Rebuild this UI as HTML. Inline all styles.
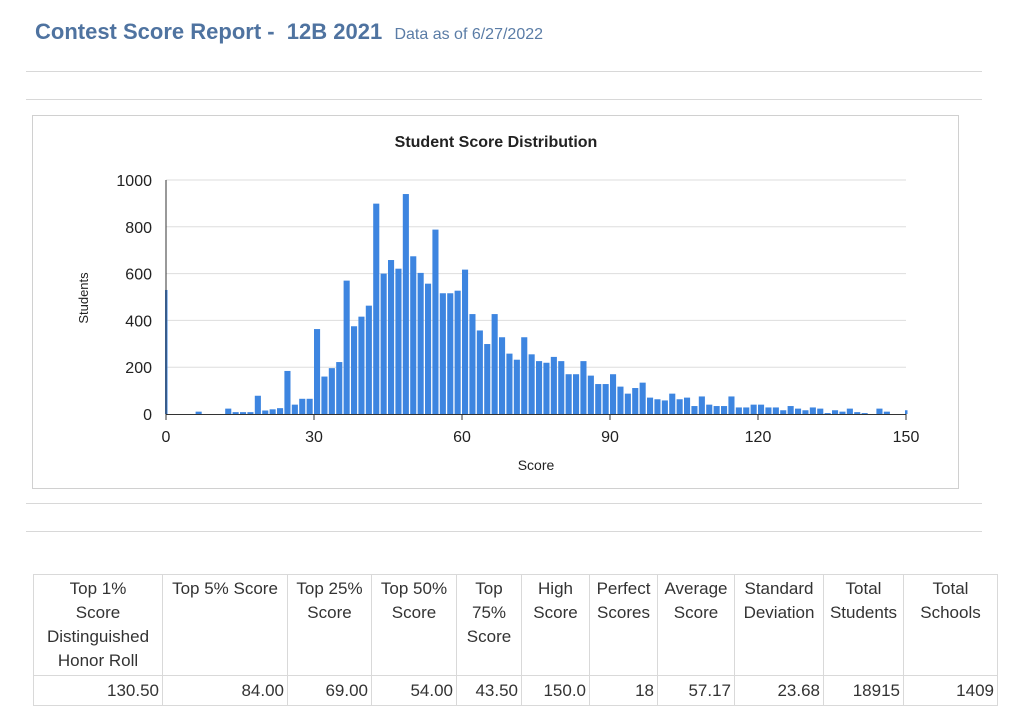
<!DOCTYPE html>
<html><head><meta charset="utf-8"><style>
body{margin:0;width:1030px;height:720px;background:#fff;font-family:"Liberation Sans",sans-serif;position:relative;overflow:hidden}
.t{position:absolute;left:35px;top:19px;color:#4f73a0;font-weight:bold;font-size:22px;white-space:pre}
.t span{font-weight:normal;font-size:16px;color:#5a7ca6}
.hl{position:absolute;left:26px;width:956px;height:1px;background:#d8d8d8}
.box{position:absolute;left:32px;top:115px;width:925px;height:372px;border:1px solid #d0d0d0}
table{position:absolute;left:33px;top:574px;border-collapse:collapse;font-size:17px;color:#333}
td{border:1px solid #d9d9d9;padding:2px 3px;line-height:24px;vertical-align:top;text-align:center}
tr.d td{text-align:right;vertical-align:middle;height:25px}
</style></head><body>
<div class="t">Contest Score Report -  12B 2021  <span>Data as of 6/27/2022</span></div>
<div class="hl" style="top:71px"></div><div class="hl" style="top:99px"></div>
<div class="hl" style="top:503px"></div><div class="hl" style="top:531px"></div>
<div class="box"></div>
<svg id="c" width="1030" height="720" style="position:absolute;left:0;top:0" font-family="Liberation Sans, sans-serif">
<text x="496" y="147" text-anchor="middle" font-size="16" font-weight="bold" fill="#222">Student Score Distribution</text>
<text x="88" y="298" transform="rotate(-90 88 298)" text-anchor="middle" font-size="13" fill="#222">Students</text>
<text x="536" y="470" text-anchor="middle" font-size="14" fill="#222">Score</text>
</svg>
<table>
<tr><td style="width:122px">Top 1%<br>Score<br>Distinguished<br>Honor Roll</td><td style="width:118px">Top 5% Score</td><td style="width:77px">Top 25%<br>Score</td><td style="width:78px">Top 50%<br>Score</td><td style="width:58px">Top<br>75%<br>Score</td><td style="width:61px">High<br>Score</td><td style="width:61px">Perfect<br>Scores</td><td style="width:70px">Average<br>Score</td><td style="width:82px">Standard<br>Deviation</td><td style="width:73px">Total<br>Students</td><td style="width:87px">Total<br>Schools</td></tr>
<tr class="d"><td>130.50</td><td>84.00</td><td>69.00</td><td>54.00</td><td>43.50</td><td>150.0</td><td>18</td><td>57.17</td><td>23.68</td><td>18915</td><td>1409</td></tr>
</table>
<script>
var d=[530,0,0,0,10,0,0,0,23,8,8,8,78,15,20,25,184,40,65,65,363,160,196,222,570,375,416,463,899,600,658,621,940,674,603,557,788,516,516,527,617,427,357,299,427,328,258,232,328,255,226,219,244,226,170,170,226,164,128,128,170,117,87,111,134,70,63,58,87,63,70,34,75,40,34,34,75,28,28,40,40,28,28,16,34,23,16,28,23,4,16,10,23,8,4,0,23,10,0,0,16];
var s='',x0=166,w=740/100,b=414,k=0.234;
[0,200,400,600,800,1000].forEach(function(v){var y=b-v*k;if(v)s+='<line x1="166" x2="906" y1="'+y+'" y2="'+y+'" stroke="#ddd"/>';s+='<text x="152" y="'+(y+6)+'" text-anchor="end" font-size="16" fill="#222">'+v+'</text>';});
d.forEach(function(v,i){if(!v)return;var x=x0+i*w,ww=(i==0||i==100)?2.5:w-1.3;if(i==0)x=x0-1;if(i==100)x=905;s+='<rect x="'+x+'" y="'+(b-v*k)+'" width="'+ww+'" height="'+v*k+'" fill="#3d85e0"/>';});
s+='<line x1="166" x2="166" y1="180" y2="414" stroke="#333"/><line x1="166" x2="906" y1="414.5" y2="414.5" stroke="#333"/>';
[0,30,60,90,120,150].forEach(function(v){var x=x0+v*740/150;s+='<line x1="'+x+'" x2="'+x+'" y1="414" y2="420" stroke="#333"/><text x="'+x+'" y="442" text-anchor="middle" font-size="16" fill="#222">'+v+'</text>';});
document.getElementById('c').insertAdjacentHTML('beforeend',s);
</script>
</body></html>
